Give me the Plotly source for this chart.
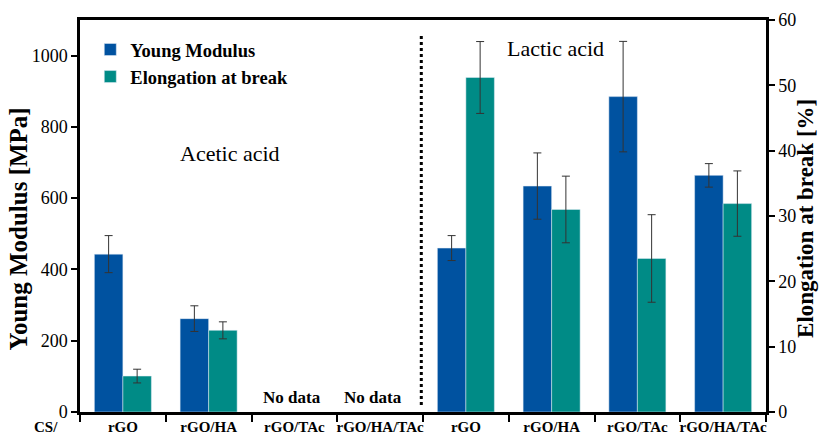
import plotly.graph_objects as go

# Data
x_labels = ["rGO", "rGO/HA", "rGO/TAc", "rGO/HA/TAc", "rGO", "rGO/HA", "rGO/TAc", "rGO/HA/TAc"]
young_modulus = [443, 262, None, None, 460, 634, 885, 664]
young_err = [52, 36, 0, 0, 35, 93, 155, 33]
elongation = [5.5, 12.5, None, None, 51.2, 31.0, 23.5, 31.9]
elong_err = [1.05, 1.3, 0, 0, 5.5, 5.1, 6.7, 5.0]
no_data_idx = [2, 3]
no_data_shift = [-2, -7]

x = list(range(len(x_labels)))
serif = "Liberation Serif"
blue = "#0052a0"
teal = "#008b86"

fig = go.Figure()
fig.add_trace(go.Bar(
    x=x, y=young_modulus, name="<b>Young Modulus</b>", marker_color=blue,
    offsetgroup="1", yaxis="y",
    error_y=dict(type="data", array=young_err, color="#333333", thickness=1, width=4),
))
fig.add_trace(go.Bar(
    x=x, y=elongation, name="<b>Elongation at break</b>", marker_color=teal,
    offsetgroup="2", yaxis="y2",
    error_y=dict(type="data", array=elong_err, color="#333333", thickness=1, width=4),
))

annotations = [
    dict(x=1.25, y=726, xref="x", yref="y", text="Acetic acid", showarrow=False,
         font=dict(family=serif, size=22, color="black")),
    dict(x=5.04, y=1020, xref="x", yref="y", text="Lactic acid", showarrow=False,
         font=dict(family=serif, size=22, color="black")),
    dict(x=-0.5, y=-0.038, xref="x", yref="paper", text="<b>CS/</b>", showarrow=False,
         xanchor="right", yanchor="middle", xshift=-20,
         font=dict(family=serif, size=15, color="black")),
    dict(x=-0.0897, y=0.467, xref="paper", yref="paper", text="<b>Young Modulus [MPa]</b>",
         showarrow=False, textangle=-90, xanchor="center", yanchor="middle",
         font=dict(family=serif, size=25, color="black")),
    dict(x=1.0583, y=0.495, xref="paper", yref="paper", text="<b>Elongation at break [%]</b>",
         showarrow=False, textangle=-90, xanchor="center", yanchor="middle",
         font=dict(family=serif, size=23, color="black")),
]
for i, s in zip(no_data_idx, no_data_shift):
    annotations.append(dict(x=i, y=40, xref="x", yref="y", text="<b>No data</b>", xshift=s,
                            showarrow=False, font=dict(family=serif, size=17, color="black")))

fig.update_layout(
    width=823, height=436,
    margin=dict(l=80, r=57, t=20, b=24),
    paper_bgcolor="white", plot_bgcolor="white",
    font=dict(family=serif, color="black"),
    barmode="group", bargap=0.335, bargroupgap=0,
    showlegend=True,
    legend=dict(x=0.015, y=0.972, xanchor="left", yanchor="top",
                font=dict(family=serif, size=18.5, color="black"),
                bgcolor="rgba(0,0,0,0)", tracegroupgap=0, itemwidth=30),
    xaxis=dict(range=[-0.5, 7.5], tickvals=x, ticktext=["<b>%s</b>" % t for t in x_labels],
               ticks="", showline=True, linecolor="black", linewidth=2.5, mirror=True,
               tickfont=dict(family=serif, size=15, color="black"), ticklabelstandoff=-1,
               showgrid=False, zeroline=False, automargin=False,
               minor=dict(tickvals=[i - 0.5 for i in range(len(x_labels) + 1)],
                          ticks="outside", ticklen=7, tickwidth=2, tickcolor="black")),
    yaxis=dict(range=[0, 1100], tickvals=[0, 200, 400, 600, 800, 1000],
               ticks="outside", ticklen=6, tickwidth=2, tickcolor="black", automargin=False,
               showline=True, linecolor="black", linewidth=2.5, showgrid=False, zeroline=False,
               tickfont=dict(family=serif, size=18, color="black")),
    yaxis2=dict(range=[0, 60], tickvals=[0, 10, 20, 30, 40, 50, 60], overlaying="y", side="right",
                ticks="outside", ticklen=6, tickwidth=2, tickcolor="black", automargin=False,
                showline=True, linecolor="black", linewidth=2.5, showgrid=False, zeroline=False,
                tickfont=dict(family=serif, size=18, color="black")),
    annotations=annotations,
    shapes=[dict(type="line", xref="x", yref="paper", x0=3.48, x1=3.48, y0=0.018, y1=0.962,
                 line=dict(color="black", width=3, dash="dot"))],
)

fig.write_html("out.html")
